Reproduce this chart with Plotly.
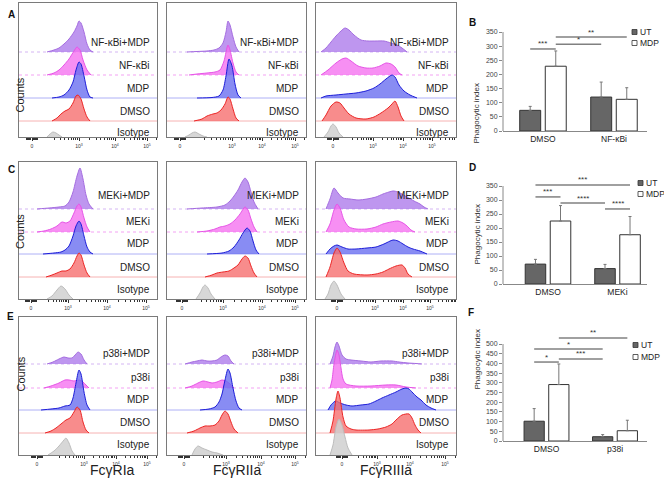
import math
import plotly.graph_objects as go

W, H = 664, 487
FONT = "Liberation Sans, Arial, sans-serif"

# ---------------- data ----------------
hist_tick_text = ["0", "10<sup>3</sup>", "10<sup>4</sup>", "10<sup>5</sup>"]
labels_A = ["NF-κBi+MDP", "NF-κBi", "MDP", "DMSO", "Isotype"]
labels_C = ["MEKi+MDP", "MEKi", "MDP", "DMSO", "Isotype"]
labels_E = ["p38i+MDP", "p38i", "MDP", "DMSO", "Isotype"]
receptors = ["FcγRIa", "FcγRIIa", "FcγRIIIa"]

# tick positions (display channel) of 0, 10^3, 10^4, 10^5 per panel
ticks_A = [[13, 60, 96, 128], [13, 65, 95, 128], [17, 57, 87, 116]]
ticks_C = [[12, 49, 88, 127], [15, 56, 95, 128], [21, 59, 87, 114]]
ticks_E = [[18, 65, 97, 128], [17, 59, 94, 128], [26, 61, 94, 129]]

# histogram curves: (display channel, counts) top strip first
hist_A1 = [
    ([28, 35, 40, 45, 50, 55, 58, 60, 62, 65, 68, 71, 74], [0, 2, 4, 8, 13, 20, 26, 31, 29, 20, 8, 2, 0]),
    ([28, 35, 40, 45, 50, 55, 58, 61, 64, 68, 72], [0, 2, 5, 10, 16, 24, 28, 25, 15, 5, 0]),
    ([33, 40, 45, 50, 54, 57, 60, 62, 65, 68, 71, 74], [0, 1, 3, 8, 16, 28, 36, 34, 22, 8, 1, 0]),
    ([33, 38, 42, 46, 50, 54, 57, 59, 62, 65, 68, 71], [0, 3, 7, 10, 12, 18, 25, 26, 22, 12, 4, 0]),
    ([28, 31, 34, 37, 40, 43], [0, 3, 5, 4, 2, 0]),
]
hist_A2 = [
    ([20, 30, 40, 47, 52, 56, 59, 61, 63, 66, 69, 72], [0, 0.5, 1, 2, 4, 9, 20, 31, 27, 15, 5, 0]),
    ([22, 30, 40, 48, 53, 57, 61, 63, 66, 69, 72], [0, 1, 2, 3, 5, 14, 30, 25, 12, 3, 0]),
    ([30, 45, 52, 56, 59, 62, 65, 68, 71, 74], [0, 0.5, 2, 8, 22, 39, 32, 14, 3, 0]),
    ([27, 35, 40, 46, 50, 54, 58, 61, 63, 66, 69, 72], [0, 2, 5, 7, 8, 11, 17, 24, 22, 12, 3, 0]),
    ([18, 22, 25, 28, 32, 36, 40], [0, 2, 4, 5, 3, 1, 0]),
]
hist_A3 = [
    ([5, 10, 15, 20, 25, 29, 33, 38, 45, 52, 60, 68, 75, 81, 86, 91], [0, 4, 10, 16, 21, 24, 22, 17, 12, 11, 11, 11, 9, 7, 4, 0]),
    ([5, 12, 20, 26, 30, 35, 42, 50, 57, 64, 70, 75, 79, 83, 86], [0, 5, 12, 16, 17, 14, 9, 7, 7, 9, 12, 11, 8, 2, 0]),
    ([5, 10, 20, 30, 40, 50, 58, 64, 70, 76, 79, 83, 88, 94, 101], [0, 2, 3, 4, 5, 7, 10, 14, 19, 23, 21, 13, 7, 3, 0]),
    ([6, 10, 15, 20, 24, 28, 33, 40, 50, 58, 65, 72, 76, 79, 82, 85, 88], [0, 6, 15, 19, 18, 13, 7, 3, 2, 4, 8, 13, 17, 20, 14, 5, 0]),
    ([8, 12, 15, 17, 20, 23, 27], [0, 5, 11, 13, 10, 4, 0]),
]
hist_C1 = [
    ([18, 30, 40, 46, 50, 54, 58, 61, 64, 67, 70, 74], [0, 1, 2, 3, 7, 17, 33, 41, 30, 14, 5, 0]),
    ([18, 25, 32, 38, 43, 47, 51, 55, 58, 60, 62, 65, 68, 71], [0, 1, 3, 6, 10, 9, 11, 19, 26, 28, 25, 14, 5, 0]),
    ([24, 35, 42, 46, 50, 54, 57, 60, 62, 65, 68, 71, 74], [0, 1, 2, 4, 8, 18, 28, 33, 30, 18, 7, 2, 0]),
    ([27, 33, 38, 43, 47, 51, 55, 58, 60, 62, 65, 68, 71], [0, 2, 4, 6, 6, 8, 14, 21, 24, 22, 12, 4, 0]),
    ([28, 33, 38, 42, 46, 50, 54], [0, 3, 9, 13, 10, 4, 0]),
]
hist_C2 = [
    ([20, 35, 50, 58, 63, 67, 71, 75, 78, 81, 84, 87, 91], [0, 1, 2, 4, 8, 13, 19, 27, 31, 27, 17, 7, 0]),
    ([30, 40, 48, 53, 58, 63, 68, 73, 78, 81, 84, 87, 90], [0, 1, 3, 5, 6, 8, 12, 18, 25, 22, 13, 5, 0]),
    ([40, 55, 62, 67, 72, 76, 80, 83, 86, 89, 92], [0, 1, 3, 7, 14, 21, 26, 23, 13, 4, 0]),
    ([38, 45, 50, 56, 62, 67, 71, 75, 78, 81, 84, 87, 90], [0, 2, 4, 5, 6, 9, 12, 18, 21, 19, 11, 4, 0]),
    ([29, 33, 36, 38, 41, 44, 48], [0, 6, 12, 14, 11, 5, 0]),
]
hist_C3 = [
    ([10, 14, 18, 22, 27, 34, 42, 51, 60, 67, 73, 77, 82, 91, 98, 104, 108, 112], [0, 10, 21, 16, 11, 10, 9, 10, 12, 15, 17, 18, 17, 12, 8, 5, 2, 0]),
    ([10, 14, 18, 21, 24, 28, 33, 40, 51, 60, 67, 75, 82, 87, 91, 95, 99], [0, 8, 22, 28, 24, 12, 5, 3, 3, 5, 8, 10, 11, 9, 6, 2, 0]),
    ([10, 14, 18, 21, 26, 32, 40, 51, 60, 68, 77, 82, 87, 92, 97, 104, 111], [0, 5, 8, 9, 7, 5, 5, 6, 7, 10, 14, 13, 10, 7, 5, 3, 0]),
    ([10, 14, 18, 21, 24, 28, 32, 38, 51, 60, 67, 73, 80, 86, 89, 92, 96], [0, 10, 24, 29, 25, 14, 6, 3, 2, 3, 5, 8, 11, 12, 9, 3, 0]),
    ([9, 12, 15, 18, 21, 25, 29], [0, 5, 14, 18, 14, 5, 0]),
]
hist_E1 = [
    ([28, 34, 40, 45, 49, 53, 57, 59, 62, 65, 68], [0, 2, 5, 7, 6, 6, 10, 12, 10, 4, 0]),
    ([25, 32, 40, 46, 50, 55, 60, 64, 67, 70], [0, 2, 5, 8, 8, 7, 8, 6, 3, 0]),
    ([22, 32, 40, 46, 51, 54, 57, 60, 62, 65, 68, 71], [0, 1, 2, 4, 5, 12, 27, 40, 36, 18, 5, 0]),
    ([26, 32, 37, 42, 47, 51, 55, 58, 61, 64, 67, 70], [0, 2, 5, 9, 13, 15, 21, 26, 23, 11, 3, 0]),
    ([29, 35, 40, 45, 47, 50, 53, 56], [0, 4, 9, 15, 17, 12, 4, 0]),
]
hist_E2 = [
    ([18, 25, 30, 35, 40, 45, 50, 54, 58, 61, 64, 67], [0, 2, 3, 4, 3, 3, 4, 7, 9, 8, 3, 0]),
    ([18, 25, 31, 36, 41, 45, 50, 55, 59, 63, 67], [0, 2, 5, 7, 6, 5, 6, 8, 7, 4, 0]),
    ([33, 42, 48, 52, 55, 58, 61, 63, 66, 69, 72, 75], [0, 1, 3, 8, 16, 30, 41, 37, 22, 9, 2, 0]),
    ([20, 27, 33, 38, 43, 48, 52, 55, 58, 61, 64, 67, 71], [0, 2, 5, 7, 7, 8, 12, 18, 22, 19, 11, 4, 0]),
    ([25, 28, 31, 35, 40, 45, 50, 56], [0, 6, 9, 7, 5, 3, 2, 0]),
]
hist_E3 = [
    ([14, 17, 19, 21, 23, 26, 30, 35, 45, 55, 65, 76, 83, 92, 100, 106], [0, 8, 17, 22, 18, 9, 5, 4, 3, 2, 3, 3, 2, 1, 0.5, 0]),
    ([14, 16, 18, 21, 23, 25, 27, 30, 40, 55, 70, 80, 90, 100], [0, 8, 24, 38, 33, 20, 9, 4, 2, 2, 3, 3, 1, 0]),
    ([12, 15, 18, 20, 24, 30, 36, 45, 53, 60, 66, 73, 80, 86, 90, 93, 96, 101, 105, 110, 115, 120], [0, 5, 8, 9, 7, 5, 4, 5, 6, 9, 12, 15, 18, 21, 22, 21, 18, 13, 10, 5, 2, 0]),
    ([14, 17, 20, 22, 24, 27, 30, 35, 40, 53, 62, 70, 76, 80, 86, 93, 96, 99, 102, 105], [0, 12, 34, 42, 35, 16, 7, 4, 3, 3, 4, 6, 9, 13, 18, 19, 15, 8, 3, 0]),
    ([14, 17, 20, 23, 26, 29, 32, 36], [0, 10, 28, 36, 30, 18, 7, 0]),
]

# bar charts: phagocytic index (mean, upper error)
groups_B = ["DMSO", "NF-κBi"]
ut_B, ut_B_err = [73, 120], [14, 53]
mdp_B, mdp_B_err = [229, 112], [54, 41]
sig_B = [("***", 0, 1, 290), ("*", 1, 2, 307), ("**", 1, 3, 332)]

groups_D = ["DMSO", "MEKi"]
ut_D, ut_D_err = [71, 55], [17, 15]
mdp_D, mdp_D_err = [225, 176], [55, 65]
sig_D = [("***", 0, 3, 354), ("***", 0, 1, 311), ("****", 1, 2, 289), ("****", 2, 3, 268)]

groups_F = ["DMSO", "p38i"]
ut_F, ut_F_err = [102, 22], [65, 11]
mdp_F, mdp_F_err = [291, 53], [106, 54]
sig_F = [("**", 1, 3, 531), ("*", 0, 2, 474), ("*", 0, 1, 407), ("***", 1, 2, 423)]

legend_names = ["UT", "MDP"]

# ---------------- layout geometry (pixels) ----------------
col_px = [(19, 157), (167, 306), (316, 456)]
row_px = [(3, 137), (162, 299), (317, 455)]
row_offsets = [[85, 62, 39, 16, 0], [90, 67, 45, 22, 0], [91, 67, 45, 22, 0]]
label_dy = [[10, 10, 10, 10, 5], [13, 10, 10, 10, 10], [11, 11, 11, 11, 11]]

strip_fill = ["rgba(172,120,234,0.78)", "rgba(245,112,240,0.78)", "rgba(102,108,240,0.78)",
              "rgba(246,108,108,0.78)", "rgba(208,208,208,0.85)"]
strip_line = ["#a46ce0", "#e653e6", "#1c1cd8", "#ec2424", "#bcbcbc"]
base_style = [("#c9a2f0", "dot"), ("#f08cf0", "dot"), ("#9a9cf4", "solid"), ("#f4a0a0", "solid")]

panels = [[hist_A1, hist_A2, hist_A3], [hist_C1, hist_C2, hist_C3], [hist_E1, hist_E2, hist_E3]]
ticks = [ticks_A, ticks_C, ticks_E]
labels = [labels_A, labels_C, labels_E]

fig = go.Figure()
layout = dict(width=W, height=H, margin=dict(l=0, r=0, t=0, b=0, autoexpand=False),
              paper_bgcolor="white", plot_bgcolor="white", showlegend=False,
              font=dict(family=FONT, color="#222"),
              barmode="group", bargap=0.28, bargroupgap=0.18)
shapes, annotations = [], []


def ax(i):
    return ("x", "y") if i == 1 else (f"x{i}", f"y{i}")


def minor_positions(t, width):
    z, p3, p4, p5 = t
    out = []
    for k in range(2, 10):
        f = math.log10(k)
        out += [p3 + f * (p4 - p3), p4 + f * (p5 - p4), p5 + f * (p5 - p4),
                p3 - (1 - f) * (p3 - z) * 0.75]
    for dz in [-5, -4, -3, -2, -1, 1, 2, 3, 4, 5]:
        out.append(z + dz * 1.1)
    return [v for v in out if 0 < v < width]


for r in range(3):
    y0p, y1p = row_px[r]
    hgt = y1p - y0p
    for c in range(3):
        i = r * 3 + c + 1
        xa, ya = ax(i)
        x0p, x1p = col_px[c]
        wid = x1p - x0p
        for s, (xs, ys) in enumerate(panels[r][c]):
            off = row_offsets[r][s]
            fig.add_trace(go.Scatter(
                x=xs, y=[off + v for v in ys], mode="lines",
                line=dict(color=strip_line[s], width=1, shape="spline", smoothing=0.7),
                fill="toself", fillcolor=strip_fill[s], hoverinfo="skip",
                xaxis=xa, yaxis=ya))
            if s < 4:
                col, dash = base_style[s]
                shapes.append(dict(type="line", xref=f"{xa} domain", yref=ya, x0=0, x1=1,
                                   y0=off, y1=off, layer="below",
                                   line=dict(color=col, width=0.8, dash=dash)))
            annotations.append(dict(text=labels[r][s], xref=xa, yref=ya, x=wid - 5,
                                    y=off + label_dy[r][s], xanchor="right", yanchor="middle",
                                    showarrow=False, font=dict(size=10, color="#222")))
        t = ticks[r][c]
        layout[f"xaxis{'' if i == 1 else i}"] = dict(
            domain=[x0p / W, x1p / W], anchor=ya, range=[0, wid],
            showline=True, mirror=True, linecolor="#7a7a7a", linewidth=1,
            ticks="outside", ticklen=3, tickwidth=1, tickcolor="#333",
            tickvals=t, ticktext=hist_tick_text, ticklabelstandoff=1,
            tickfont=dict(size=5, color="#333"),
            minor=dict(tickvals=minor_positions(t, wid), ticklen=2, tickcolor="#333", ticks="outside"),
            showgrid=False, zeroline=False, fixedrange=True)
        layout[f"yaxis{'' if i == 1 else i}"] = dict(
            domain=[1 - y1p / H, 1 - y0p / H], anchor=xa, range=[0, hgt],
            showline=True, mirror=True, linecolor="#7a7a7a", linewidth=1,
            ticks="", showticklabels=False, showgrid=False, zeroline=False, fixedrange=True)

# x-axis titles and Counts labels
for c in range(3):
    annotations.append(dict(text=receptors[c], xref="paper", yref="paper",
                            x=(col_px[c][0] + col_px[c][1]) / 2 / W, y=1 - 479.5 / H,
                            showarrow=False, font=dict(size=14, color="#222")))
for yc in [76, 232, 394]:
    annotations.append(dict(text="Counts", xref="paper", yref="paper", x=12 / W, y=1 - yc / H,
                            textangle=-90, showarrow=False, font=dict(size=11, color="#222")))

# ---------------- bar charts ----------------
bar_specs = [
    (10, groups_B, ut_B, ut_B_err, mdp_B, mdp_B_err, sig_B, 131, 32, 350, 25, [-0.563, 1.465], 82, (632, 32, 43)),
    (11, groups_D, ut_D, ut_D_err, mdp_D, mdp_D_err, sig_D, 284, 186, 350, 174, [-0.647, 1.424], 235, (638, 183, 194)),
    (12, groups_F, ut_F, ut_F_err, mdp_F, mdp_F_err, sig_F, 441, 344, 500, 329, [-0.635, 1.467], 392, (633, 345, 357)),
]
half = (1 - layout["bargap"]) / 4
bar_fill = ["#666666", "white"]
for (i, groups, ut, ute, mdp, mdpe, sig, yz, yt, tv, topp, xr, ytitle, leg) in bar_specs:
    xa, ya = ax(i)
    for k, (vals, errs) in enumerate([(ut, ute), (mdp, mdpe)]):
        fig.add_trace(go.Bar(x=list(range(len(groups))), y=vals, offsetgroup=legend_names[k],
                             marker=dict(color=bar_fill[k], line=dict(color="#333", width=1)),
                             error_y=dict(type="data", array=errs, arrayminus=[0] * len(vals),
                                          symmetric=False, color="#777", thickness=1, width=1.5),
                             xaxis=xa, yaxis=ya, hoverinfo="skip"))
    scale = tv / (yz - yt)
    rmax = scale * (yz - topp)
    layout[f"xaxis{i}"] = dict(domain=[503 / W, 647 / W], anchor=ya, range=xr,
                               tickvals=list(range(len(groups))), ticktext=groups,
                               showline=True, linecolor="#888", linewidth=1, ticks="",
                               tickfont=dict(size=8.5, color="#222"),
                               showgrid=False, zeroline=False, fixedrange=True)
    layout[f"yaxis{i}"] = dict(domain=[1 - yz / H, 1 - topp / H], anchor=xa, range=[0, rmax],
                               tickvals=list(range(0, tv + 1, 50)), ticks="outside", ticklen=3,
                               tickcolor="#888", tickfont=dict(size=7, color="#444"),
                               showline=False, showgrid=False, zeroline=False, fixedrange=True)
    shapes.append(dict(type="line", xref=f"{xa} domain", yref=ya, x0=0, x1=0, y0=0, y1=tv,
                       line=dict(color="#888", width=1)))
    for stars, a, b, lvl in sig:
        xa_ = a // 2 + (-half if a % 2 == 0 else half)
        xb_ = b // 2 + (-half if b % 2 == 0 else half)
        shapes.append(dict(type="line", xref=xa, yref=ya, x0=xa_, x1=xb_, y0=lvl, y1=lvl,
                           line=dict(color="#808080", width=1.5)))
        annotations.append(dict(text=stars, xref=xa, yref=ya, x=(xa_ + xb_) / 2, y=lvl,
                                yshift=5, showarrow=False, font=dict(size=8, color="#333")))
    annotations.append(dict(text="Phagocytic index", xref="paper", yref="paper", x=483 / W,
                            y=1 - ytitle / H, textangle=-90, showarrow=False,
                            font=dict(size=8, color="#333")))
    lx, ly1, ly2 = leg
    for k, ly in enumerate([ly1, ly2]):
        shapes.append(dict(type="rect", xref="paper", yref="paper",
                           x0=lx / W, x1=(lx + 5) / W, y0=1 - (ly + 2.5) / H, y1=1 - (ly - 2.5) / H,
                           fillcolor=bar_fill[k], line=dict(color="#333", width=0.8)))
        annotations.append(dict(text=legend_names[k], xref="paper", yref="paper",
                                x=(lx + 6) / W, y=1 - ly / H, xanchor="left", yanchor="middle",
                                showarrow=False, font=dict(size=8.5, color="#222")))

# panel letters
for letter, px, py in [("A", 6, 7), ("C", 6, 162), ("E", 5, 316), ("B", 478, 15), ("D", 478, 160), ("F", 476, 312)]:
    annotations.append(dict(text=f"<b>{letter}</b>", xref="paper", yref="paper", x=px / W, y=1 - py / H,
                            showarrow=False, font=dict(size=10, color="#111")))

layout["shapes"] = shapes
layout["annotations"] = annotations
fig.update_layout(**layout)
fig.write_html("out.html", config={"displayModeBar": False},
               post_script="document.body.style.margin='0px';document.body.style.overflow='hidden';")
